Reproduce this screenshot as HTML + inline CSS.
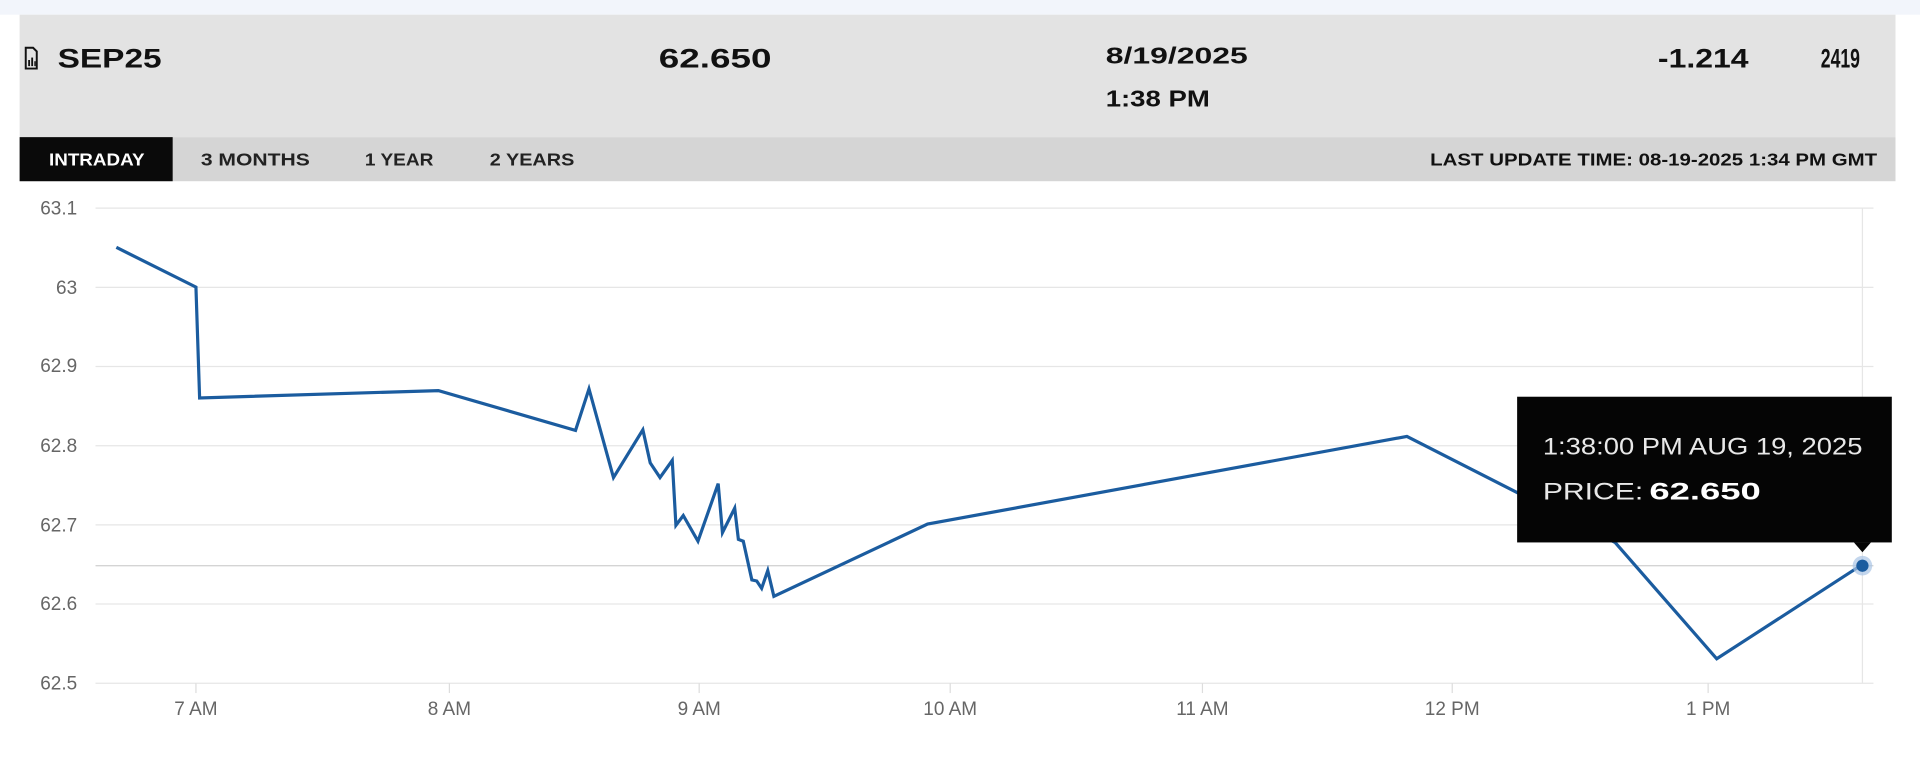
<!DOCTYPE html>
<html><head><meta charset="utf-8"><style>
html,body{margin:0;padding:0;background:#fff;width:1920px;height:761px;overflow:hidden}
svg{display:block}
text{font-family:"Liberation Sans",sans-serif}
</style></head><body>
<svg width="1920" height="761" viewBox="0 0 1568 621.5" xmlns="http://www.w3.org/2000/svg">
<rect x="0" y="0" width="1568" height="12" fill="#f2f5fb"/>
<rect x="16" y="12" width="1532" height="100" fill="#e3e3e3"/>
<rect x="16" y="112" width="1532" height="36" fill="#d5d5d5"/>
<rect x="16" y="112" width="125" height="36" fill="#0a0a0a"/>
<!-- icon -->
<g fill="none" stroke="#111" stroke-width="1.6">
<path d="M21 39 h6 l3 3 v14 h-9 z"/>
</g>
<g fill="#111"><rect x="23" y="49" width="1.5" height="5"/><rect x="25.5" y="47" width="1.5" height="7"/><rect x="28" y="50" width="1.2" height="4"/></g>
<g font-weight="bold" fill="#111" font-size="22">
<text x="47" y="55" textLength="85" lengthAdjust="spacingAndGlyphs">SEP25</text>
<text x="538" y="55" textLength="92" lengthAdjust="spacingAndGlyphs">62.650</text>
<text x="1354" y="55" textLength="74" lengthAdjust="spacingAndGlyphs">-1.214</text>
<text x="1487" y="55" textLength="32" lengthAdjust="spacingAndGlyphs">2419</text>
</g>
<g font-weight="bold" fill="#111" font-size="19">
<text x="903" y="52" textLength="116" lengthAdjust="spacingAndGlyphs">8/19/2025</text>
<text x="903" y="87" textLength="85" lengthAdjust="spacingAndGlyphs">1:38 PM</text>
</g>
<g font-weight="bold" font-size="14.5">
<text x="40" y="135" fill="#fff" textLength="78" lengthAdjust="spacingAndGlyphs">INTRADAY</text>
<text x="164" y="135" fill="#222" textLength="89" lengthAdjust="spacingAndGlyphs">3 MONTHS</text>
<text x="298" y="135" fill="#222" textLength="56" lengthAdjust="spacingAndGlyphs">1 YEAR</text>
<text x="400" y="135" fill="#222" textLength="69" lengthAdjust="spacingAndGlyphs">2 YEARS</text>
<text x="1168" y="135" fill="#111" textLength="365" lengthAdjust="spacingAndGlyphs">LAST UPDATE TIME: 08-19-2025 1:34 PM GMT</text>
</g>
<!-- grid -->
<g stroke="#e6e6e6" stroke-width="1">
<line x1="78" y1="170" x2="1530" y2="170"/>
<line x1="78" y1="234.7" x2="1530" y2="234.7"/>
<line x1="78" y1="299.3" x2="1530" y2="299.3"/>
<line x1="78" y1="364" x2="1530" y2="364"/>
<line x1="78" y1="428.7" x2="1530" y2="428.7"/>
<line x1="78" y1="493.3" x2="1530" y2="493.3"/>
<line x1="78" y1="558" x2="1530" y2="558"/>
<line x1="1521" y1="170" x2="1521" y2="558"/>
</g>
<line x1="78" y1="462" x2="1530" y2="462" stroke="#d4d4d4" stroke-width="1.2"/>
<g stroke="#ddd"><line x1="160" y1="558" x2="160" y2="566"/><line x1="367" y1="558" x2="367" y2="566"/><line x1="571" y1="558" x2="571" y2="566"/><line x1="776" y1="558" x2="776" y2="566"/><line x1="982" y1="558" x2="982" y2="566"/><line x1="1186" y1="558" x2="1186" y2="566"/><line x1="1395" y1="558" x2="1395" y2="566"/></g>
<g fill="#666" font-size="15.5" text-anchor="end">
<text x="63" y="175">63.1</text>
<text x="63" y="240">63</text>
<text x="63" y="304">62.9</text>
<text x="63" y="369">62.8</text>
<text x="63" y="434">62.7</text>
<text x="63" y="498">62.6</text>
<text x="63" y="563">62.5</text>
</g>
<g fill="#666" font-size="15.5" text-anchor="middle">
<text x="160" y="584">7 AM</text>
<text x="367" y="584">8 AM</text>
<text x="571" y="584">9 AM</text>
<text x="776" y="584">10 AM</text>
<text x="982" y="584">11 AM</text>
<text x="1186" y="584">12 PM</text>
<text x="1395" y="584">1 PM</text>
</g>
<polyline fill="none" stroke="#1b5c9f" stroke-width="2.6" stroke-linejoin="miter" points="95,202 160,234.5 163,325 358,319 470,351.5 481,317.6 501,390 525,351 531,378 539,390 549,376 552,429 558,421 570,442 586.5,395 590,435 600,415 603,440.5 607,442 614,473.6 618,474.5 622,480.5 627,466 632,487 757.5,428 1149,356.4 1319,443 1402,538 1521,461"/>
<circle cx="1521" cy="462" r="8" fill="#a9c4e6" opacity="0.7"/>
<circle cx="1521" cy="462" r="5" fill="#1b5c9f"/>
<!-- tooltip -->
<rect x="1239" y="324" width="306" height="119" fill="#050505"/>
<path d="M1514 443 L1521 451 L1528 443 z" fill="#050505"/>
<text x="1260" y="371" fill="#e8e8e8" font-size="20" textLength="261" lengthAdjust="spacingAndGlyphs">1:38:00 PM AUG 19, 2025</text>
<text x="1260" y="408" fill="#e8e8e8" font-size="20"><tspan textLength="82" lengthAdjust="spacingAndGlyphs">PRICE:</tspan><tspan x="1347" font-weight="bold" fill="#fff" textLength="91" lengthAdjust="spacingAndGlyphs">62.650</tspan></text>
</svg>
</body></html>
